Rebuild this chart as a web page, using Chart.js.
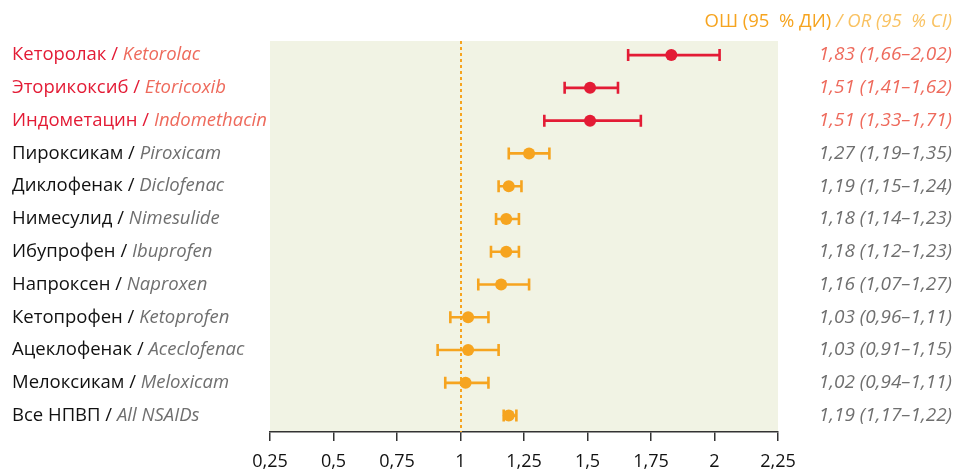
<!DOCTYPE html>
<html lang="ru">
<head>
<meta charset="utf-8">
<title>ОШ (95 % ДИ) — НПВП</title>
<script src="https://cdn.jsdelivr.net/npm/chart.js@4/dist/chart.umd.min.js"></script>
<style>
  html, body { margin: 0; padding: 0; background: #ffffff; }
  #wrap { position: relative; width: 954px; height: 472px; }
</style>
</head>
<body>
<div id="wrap"><canvas id="forest" width="954" height="472"></canvas></div>
<script>
// Drug names (Russian / English)
const namesRu = ['Кеторолак', 'Эторикоксиб', 'Индометацин', 'Пироксикам', 'Диклофенак',
  'Нимесулид', 'Ибупрофен', 'Напроксен', 'Кетопрофен', 'Ацеклофенак', 'Мелоксикам', 'Все НПВП'];
const namesEn = ['Ketorolac', 'Etoricoxib', 'Indomethacin', 'Piroxicam', 'Diclofenac',
  'Nimesulide', 'Ibuprofen', 'Naproxen', 'Ketoprofen', 'Aceclofenac', 'Meloxicam', 'All NSAIDs'];

// Odds ratios with 95% confidence intervals
const oddsRatio = [1.83, 1.51, 1.51, 1.27, 1.19, 1.18, 1.18, 1.16, 1.03, 1.03, 1.02, 1.19];
const ciLow     = [1.66, 1.41, 1.33, 1.19, 1.15, 1.14, 1.12, 1.07, 0.96, 0.91, 0.94, 1.17];
const ciHigh    = [2.02, 1.62, 1.71, 1.35, 1.24, 1.23, 1.23, 1.27, 1.11, 1.15, 1.11, 1.22];

// Rows highlighted as high-risk
const highRisk = [true, true, true, false, false, false, false, false, false, false, false, false];

// X axis ticks
const xTicks = [0.25, 0.5, 0.75, 1, 1.25, 1.5, 1.75, 2, 2.25];

const FONT = '"Open Sans", "Noto Sans", sans-serif';
const RED = '#e31b35';
const SALMON = '#ee6a5c';
const ORANGE = '#f6a41f';
const GRAY = '#6f6f6f';

const fmt = v => v.toFixed(2).replace('.', ',');
const fmtTick = v => String(Number(v.toFixed(2))).replace('.', ',');

const points = oddsRatio.map((v, i) => ({ x: v, y: i }));

const forestPlugin = {
  id: 'forest',
  beforeDraw(chart) {
    const { ctx, chartArea: a } = chart;
    ctx.save();
    ctx.fillStyle = '#f1f3e4';
    ctx.fillRect(a.left, a.top, a.right - a.left, a.bottom - a.top);
    ctx.restore();
  },
  beforeDatasetsDraw(chart) {
    const { ctx, chartArea: a, scales: { x, y } } = chart;
    ctx.save();
    // reference line at OR = 1
    const x1 = Math.round(x.getPixelForValue(1));
    ctx.strokeStyle = ORANGE;
    ctx.lineWidth = 2;
    ctx.setLineDash([3, 3]);
    ctx.beginPath();
    ctx.moveTo(x1, a.top);
    ctx.lineTo(x1, a.bottom);
    ctx.stroke();
    ctx.setLineDash([]);
    // confidence intervals
    ctx.lineWidth = 2.6;
    for (let i = 0; i < oddsRatio.length; i++) {
      const py = y.getPixelForValue(i);
      const xl = x.getPixelForValue(ciLow[i]);
      const xh = x.getPixelForValue(ciHigh[i]);
      ctx.strokeStyle = highRisk[i] ? RED : ORANGE;
      ctx.beginPath();
      ctx.moveTo(xl, py); ctx.lineTo(xh, py);
      ctx.moveTo(xl, py - 6); ctx.lineTo(xl, py + 6);
      ctx.moveTo(xh, py - 6); ctx.lineTo(xh, py + 6);
      ctx.stroke();
    }
    ctx.restore();
  },
  afterDraw(chart) {
    const { ctx, scales: { y } } = chart;
    ctx.save();
    ctx.textBaseline = 'middle';
    const nameSize = 18.5;
    const valSize = 19;
    for (let i = 0; i < namesRu.length; i++) {
      const py = y.getPixelForValue(i);
      // left label: Russian / English
      let px = 12;
      ctx.textAlign = 'left';
      ctx.font = `${nameSize}px ${FONT}`;
      ctx.fillStyle = highRisk[i] ? RED : '#111111';
      const ru = namesRu[i] + ' / ';
      ctx.fillText(ru, px, py);
      px += ctx.measureText(ru).width;
      ctx.font = `italic ${nameSize}px ${FONT}`;
      ctx.fillStyle = highRisk[i] ? SALMON : GRAY;
      ctx.fillText(namesEn[i], px, py);
      // right label: OR (CI)
      ctx.textAlign = 'right';
      ctx.font = `italic ${valSize}px ${FONT}`;
      ctx.fillText(`${fmt(oddsRatio[i])} (${fmt(ciLow[i])}–${fmt(ciHigh[i])})`, 952, py);
    }
    // column header
    const headSize = 18.5;
    ctx.textAlign = 'right';
    ctx.font = `italic ${headSize}px ${FONT}`;
    ctx.fillStyle = '#f9c262';
    const en = ' / OR (95\u00a0 % CI)';
    ctx.fillText(en, 952, 22);
    const w = ctx.measureText(en).width;
    ctx.font = `${headSize}px ${FONT}`;
    ctx.fillStyle = ORANGE;
    ctx.fillText('ОШ (95\u00a0 % ДИ)', 952 - w, 22);
    ctx.restore();
  }
};

new Chart(document.getElementById('forest'), {
  type: 'scatter',
  data: {
    datasets: [{
      data: points,
      pointRadius: 6,
      pointHoverRadius: 6,
      pointBorderWidth: 0,
      pointBackgroundColor: highRisk.map(h => h ? RED : ORANGE),
      pointBorderColor: highRisk.map(h => h ? RED : ORANGE)
    }]
  },
  options: {
    responsive: false,
    animation: false,
    devicePixelRatio: 1,
    layout: { padding: { left: 270, right: 176, top: 41, bottom: 0 } },
    plugins: { legend: { display: false }, tooltip: { enabled: false } },
    scales: {
      x: {
        type: 'linear',
        min: 0.25,
        max: 2.25,
        afterBuildTicks: s => { s.ticks = xTicks.map(v => ({ value: v })); },
        afterFit: s => { s.height = 40; },
        ticks: {
          autoSkip: false,
          maxRotation: 0,
          padding: 10,
          color: '#111111',
          font: { family: FONT, size: 18 },
          callback: v => fmtTick(v)
        },
        grid: { drawOnChartArea: false, drawTicks: true, tickLength: 9, color: '#333333', lineWidth: 1.5 },
        border: { display: true, color: '#333333', width: 1.5 }
      },
      y: {
        type: 'linear',
        reverse: true,
        min: -0.43,
        max: 11.5,
        display: false
      }
    }
  },
  plugins: [forestPlugin]
});
</script>
</body>
</html>
